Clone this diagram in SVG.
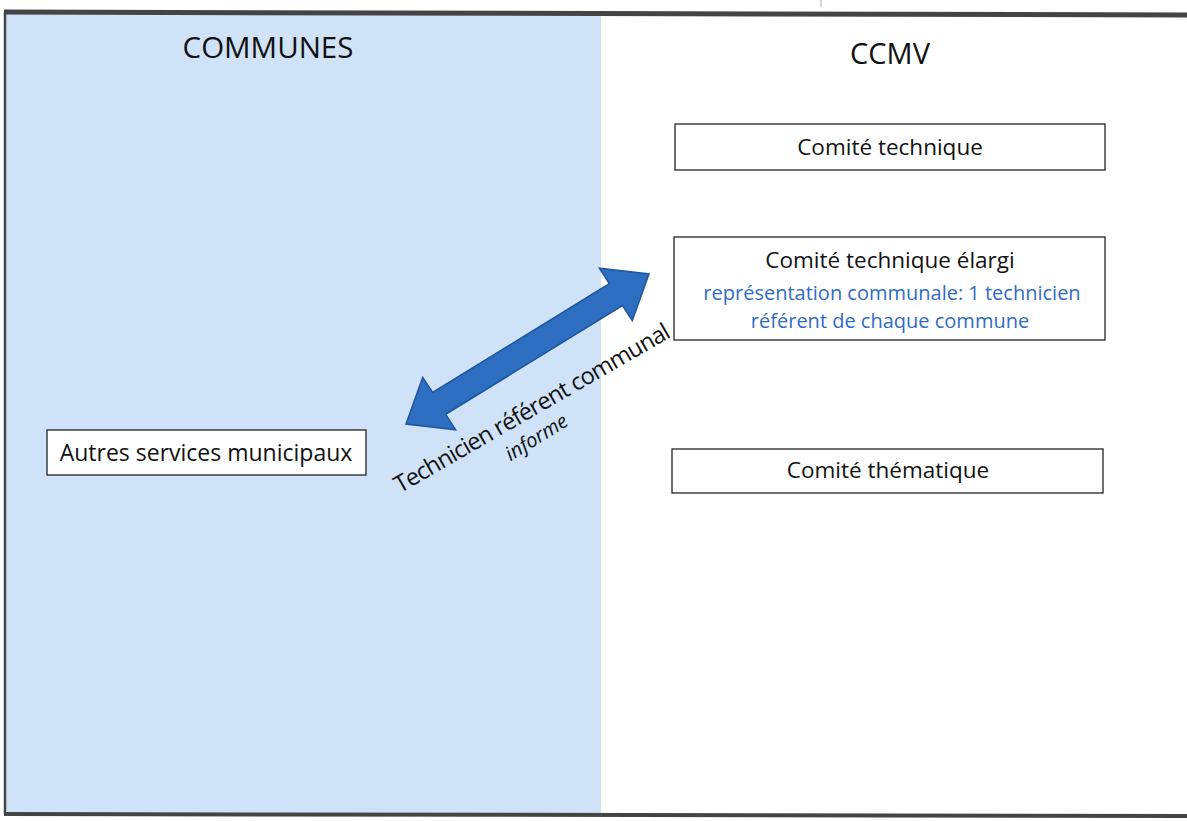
<svg xmlns="http://www.w3.org/2000/svg" width="1187" height="821" viewBox="0 0 1187 821">
<style>
.box{fill:#fff;stroke:#222;stroke-width:1.3}
.t{font-family:"Open Sans","Liberation Sans",sans-serif;fill:#111;text-anchor:middle}
.b{fill:#2f6cc6}
</style>
<rect x="0" y="0" width="1187" height="821" fill="#fff"/>
<rect x="6" y="13" width="595" height="800" fill="#cfe2f8"/>
<g id="frame" fill="none" stroke="#444">
<path d="M4 12 L1187 15" stroke-width="5"/>
<path d="M4 814 L1187 816" stroke-width="4"/>
<path d="M5 12 L5 814" stroke-width="2.5"/>
<path d="M821 0 L821 7" stroke="#aaa" stroke-width="1"/>
</g>
<text class="t" x="268" y="58" font-size="29.5">COMMUNES</text>
<text class="t" x="890" y="64" font-size="29">CCMV</text>
<g id="connectors">
<polygon points="406,424 422.7,377.5 432.6,392.4 609.3,283.7 599.4,268.3 649,274 632.3,320.5 622.4,305.6 445.7,414.3 455.6,429.7" fill="#2e6ec0" stroke="#1d569e" stroke-width="1.5"/>
<text class="t" transform="translate(536,415) rotate(-30)" font-size="23.5" textLength="314">Technicien référent communal</text>
<text class="t" transform="translate(540,443) rotate(-32)" font-size="20" font-style="italic">informe</text>
</g>
<g id="comite-technique">
<rect class="box" x="675" y="124" width="430" height="46"/>
<text class="t" x="890" y="155" font-size="22.5">Comité technique</text>
</g>
<g id="comite-technique-elargi">
<rect class="box" x="674" y="237" width="431" height="103"/>
<text class="t" x="890" y="268" font-size="22.5">Comité technique élargi</text>
<text class="t b" x="892" y="300" font-size="20">représentation communale: 1 technicien</text>
<text class="t b" x="890" y="328" font-size="20">référent de chaque commune</text>
</g>
<g id="comite-thematique">
<rect class="box" x="672" y="449" width="431" height="44"/>
<text class="t" x="888" y="478" font-size="22.5">Comité thématique</text>
</g>
<g id="autres-services">
<rect class="box" x="47" y="430" width="319" height="45"/>
<text class="t" x="206" y="461" font-size="23">Autres services municipaux</text>
</g>
</svg>
